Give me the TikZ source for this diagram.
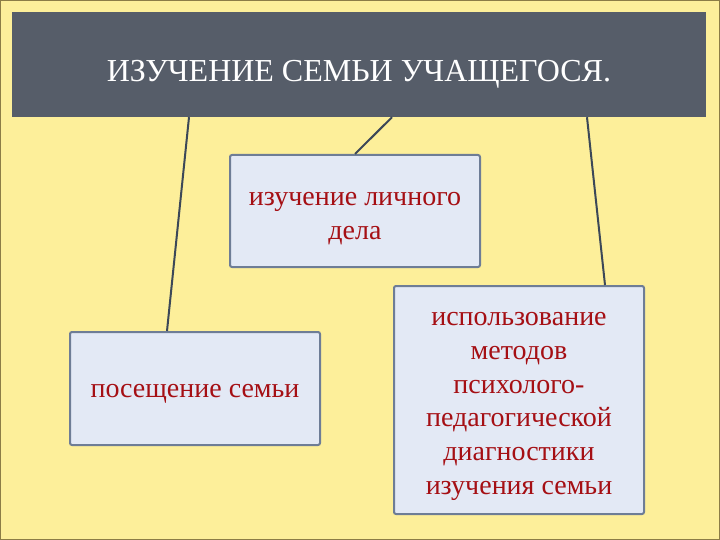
\documentclass[tikz,border=0pt]{standalone}
\usepackage{fontspec}
\setmainfont{Liberation Serif}
\usepackage{tikz}
\usetikzlibrary{calc}

\definecolor{slidebg}{RGB}{253,239,154}
\definecolor{slideedge}{RGB}{140,125,70}
\definecolor{titlegray}{RGB}{86,93,105}
\definecolor{boxfill}{RGB}{227,233,245}
\definecolor{boxedge}{RGB}{110,125,150}
\definecolor{linkcol}{RGB}{60,72,88}
\definecolor{textred}{RGB}{165,15,20}

\tikzset{
    topic/.style={rectangle, rounded corners=2pt, draw=boxedge, line width=2pt,
        fill=boxfill, text=textred, align=center, inner sep=0pt,
        minimum width=250pt, font=\fontsize{28}{33.8}\selectfont},
    link/.style={draw=linkcol, line width=2pt}
}

\begin{document}
\begin{tikzpicture}[x=1pt, y=-1pt]
        % background of the slide
        \fill[slidebg] (0,0) rectangle (720,540);
        \draw[slideedge, line width=1pt] (0.5,0.5) rectangle (719.5,539.5);
        \useasboundingbox (0,0) rectangle (720,540);
        % heading
        \node[fill=titlegray, text=white, minimum width=694pt, minimum height=105pt,
            inner sep=0pt, text height=40pt, text depth=5pt,
            font=\fontsize{32}{38}\selectfont] (title) at (359,64.5)
            {ИЗУЧЕНИЕ СЕМЬИ УЧАЩЕГОСЯ.};
        % three topics (the rules push the text a little down)
        \node[topic, minimum height=112pt] (file) at (355,211)
            {\rule{0pt}{29pt}изучение личного\\дела};
        \node[topic, minimum height=113pt] (visit) at (195,388.5)
            {\rule{0pt}{23pt}посещение семьи};
        \node[topic, minimum height=228pt] (diag) at (519,400)
            {\rule{0pt}{26pt}использование\\методов\\психолого-\\педагогической\\диагностики\\изучения семьи};
        % links to the heading
        \draw[link] ([xshift=-170pt]title.south) -- ([xshift=-28pt]visit.north);
        \draw[link] ([xshift=33pt]title.south) -- (file.north);
        \draw[link] ([xshift=228pt]title.south) -- ([xshift=86pt]diag.north);
\end{tikzpicture}
\end{document}
